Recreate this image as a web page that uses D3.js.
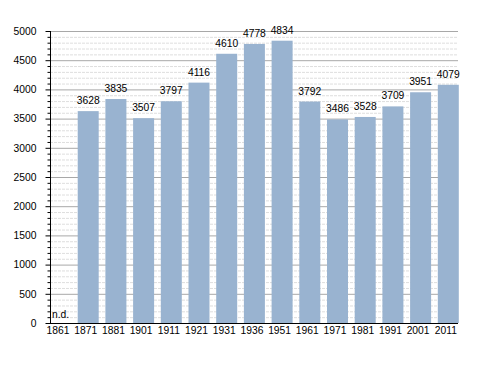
<!DOCTYPE html>
<html><head><meta charset="utf-8">
<script src="https://cdn.jsdelivr.net/npm/d3@7"></script>
<style>body{margin:0;background:#fff}svg{display:block;font-family:"Liberation Sans",Arial,sans-serif}</style>
</head><body><svg id="c" width="488" height="373"></svg>
<script>
const years = ["1861","1871","1881","1901","1911","1921","1931","1936","1951","1961","1971","1981","1991","2001","2011"];
const population = [null,3628,3835,3507,3797,4116,4610,4778,4834,3792,3486,3528,3709,3951,4079];
const yTicks = [0,500,1000,1500,2000,2500,3000,3500,4000,4500,5000];
const minorTicks = d3.range(0,5001,100);

(function(){
const svg = d3.select("#c");
const mLeft = 50, mRight = 458, mTop = 31, mBottom = 323;
const step = 27.7, barW = 21;
const fs = "10.3px";
const x = d3.scaleBand().domain(years).range([mLeft, mLeft + step*years.length]).padding(0);
const y = d3.scaleLinear().domain([0,5000]).range([mBottom, mTop]);

// minor gridlines
svg.append("g").selectAll("line").data(minorTicks.filter(d=>d%500!==0)).join("line")
  .attr("x1",mLeft).attr("x2",mRight).attr("y1",d=>y(d)+0.5).attr("y2",d=>y(d)+0.5)
  .attr("stroke","#dedede").attr("stroke-dasharray","3,1");
// major gridlines
svg.append("g").selectAll("line").data(yTicks.filter(d=>d>0)).join("line")
  .attr("x1",mLeft).attr("x2",mRight).attr("y1",d=>y(d)+0.5).attr("y2",d=>y(d)+0.5)
  .attr("stroke","#a8a8a8");

// bars
const data = years.map((yr,i)=>({yr, v: population[i]}));
svg.append("g").selectAll("rect").data(data.filter(d=>d.v!==null)).join("rect")
  .attr("x",d=>x(d.yr)).attr("width",barW)
  .attr("y",d=>y(d.v)).attr("height",d=>mBottom-y(d.v))
  .attr("fill","#99b3d0");

// value labels
svg.append("g").selectAll("text").data(data).join("text")
  .attr("x",d=> d.v===null ? x(d.yr)+2 : x(d.yr)+barW/2)
  .attr("y",d=> d.v===null ? mBottom-5 : y(d.v)-7)
  .attr("text-anchor",d=> d.v===null ? "start" : "middle")
  .attr("font-size",fs).attr("fill","#000")
  .text(d=> d.v===null ? "n.d." : d.v);

// y axis
const yAxis = d3.axisLeft(y).tickValues(yTicks).tickSize(5).tickPadding(9).tickFormat(d3.format("d"));
const gy = svg.append("g").attr("transform",`translate(${mLeft+0.5},0)`).call(yAxis);
gy.select(".domain").remove();
gy.selectAll("text").attr("font-size",fs).attr("font-family","Liberation Sans, Arial, sans-serif");
svg.append("g").selectAll("line").data(minorTicks.filter(d=>d%500!==0)).join("line")
  .attr("x1",mLeft-2.5).attr("x2",mLeft).attr("y1",d=>y(d)+0.5).attr("y2",d=>y(d)+0.5)
  .attr("stroke","#000");
svg.append("line").attr("x1",mLeft+0.5).attr("x2",mLeft+0.5).attr("y1",mTop).attr("y2",mBottom+0.5).attr("stroke","#000");

// x axis
const xAxis = d3.axisBottom(x).tickSize(0).tickPadding(4);
const gx = svg.append("g").attr("transform",`translate(0,${mBottom})`).call(xAxis);
gx.select(".domain").remove();
gx.selectAll(".tick").attr("transform",d=>`translate(${x(d)+barW/2-2.5},0)`);
gx.selectAll("text").attr("font-size",fs).attr("font-family","Liberation Sans, Arial, sans-serif");
svg.append("line").attr("x1",mLeft).attr("x2",mRight).attr("y1",mBottom+0.5).attr("y2",mBottom+0.5).attr("stroke","#000");
})();
</script></body></html>
